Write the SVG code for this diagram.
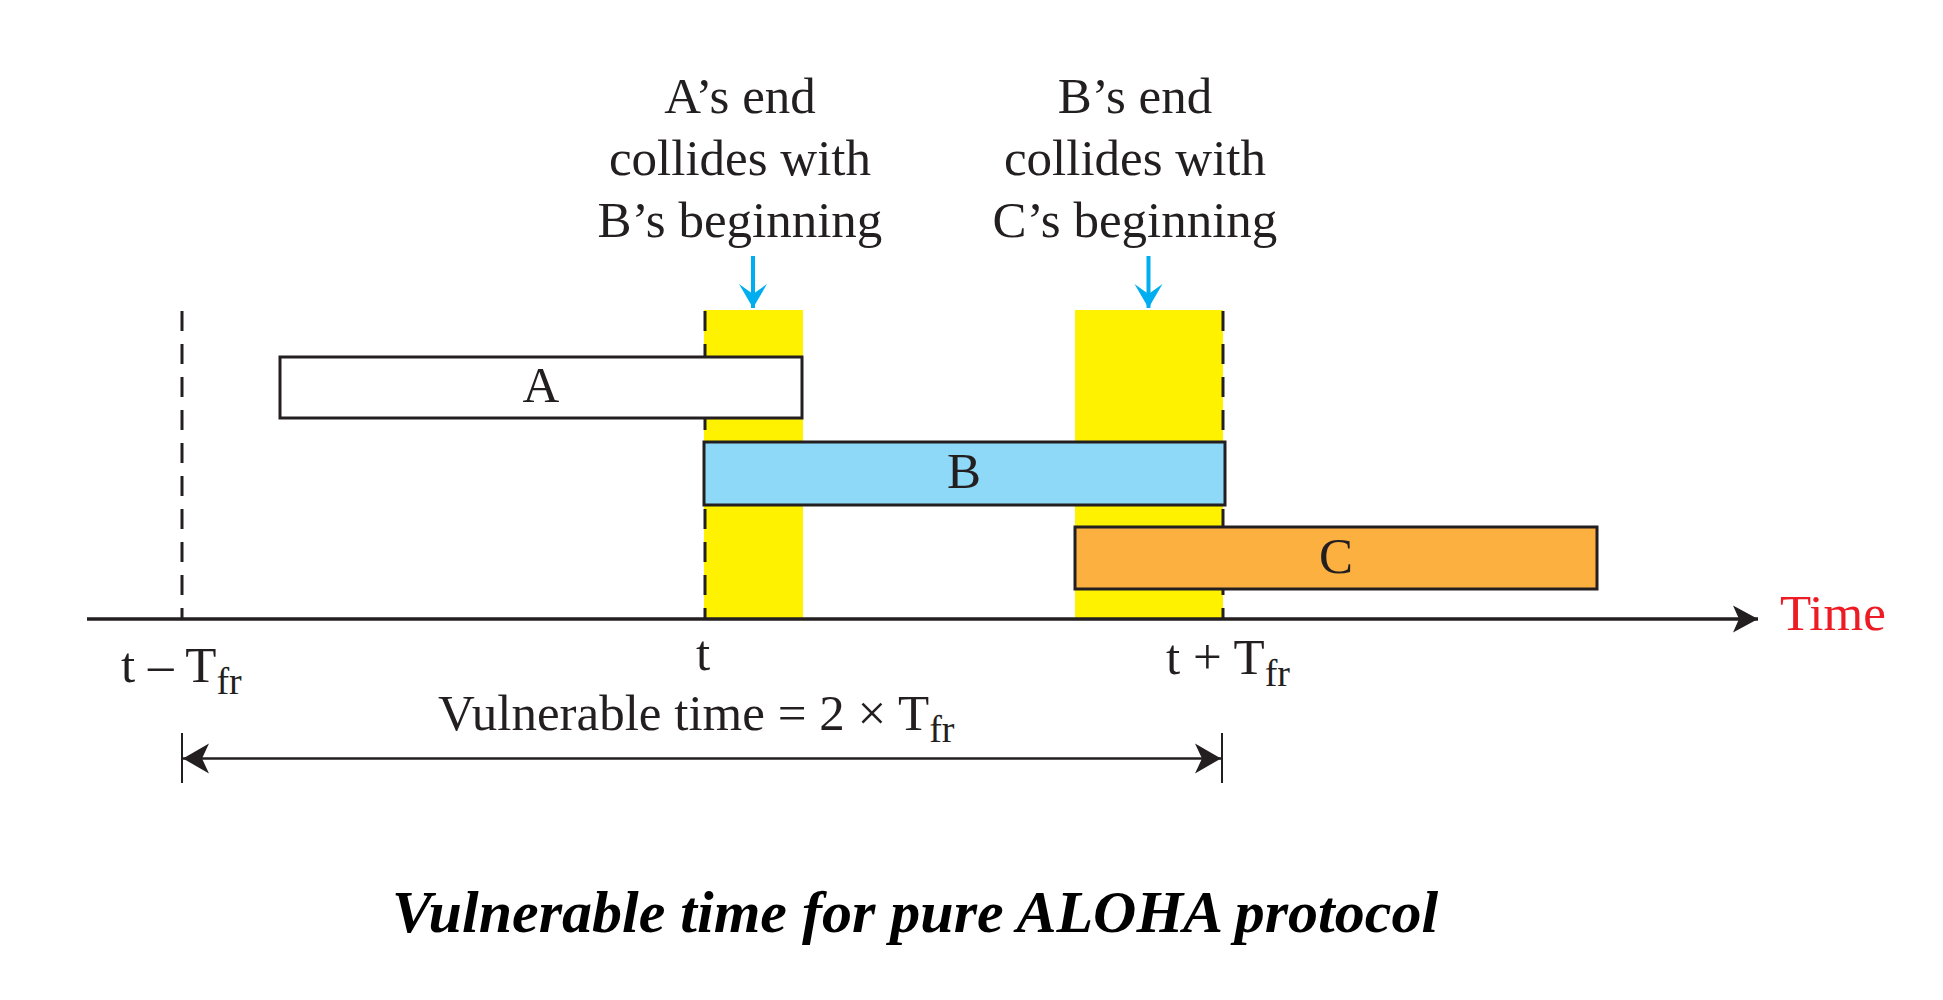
<svg xmlns="http://www.w3.org/2000/svg" width="1943" height="1000" viewBox="0 0 1943 1000">
<style>
.lbl{font-family:"Liberation Serif","Times New Roman",serif;font-size:51px;fill:#231F20}
.sub{font-size:38px}
.box{stroke:#231F20;stroke-width:3}
.dash{stroke:#231F20;stroke-width:3;stroke-dasharray:20 13;fill:none}
.band{fill:#FFF200}
.title{font-family:"Liberation Serif","Times New Roman",serif;font-size:60px;font-weight:bold;font-style:italic;fill:#000}
</style>
<defs>
<marker id="ah" markerUnits="userSpaceOnUse" viewBox="-26 -15 27 30" refX="0" refY="0" markerWidth="27" markerHeight="30" orient="auto">
<path d="M0,0 L-25,-13.5 L-19,0 L-25,13.5 Z" fill="#231F20"/>
</marker>
<marker id="dh" markerUnits="userSpaceOnUse" viewBox="-27 -16 28 32" refX="0" refY="0" markerWidth="28" markerHeight="32" orient="auto-start-reverse">
<path d="M0,0 L-26,-15 L-19,0 L-26,15 Z" fill="#231F20"/>
</marker>
<marker id="bh" markerUnits="userSpaceOnUse" viewBox="-25 -15 26 30" refX="0" refY="0" markerWidth="26" markerHeight="30" orient="auto">
<path d="M0,0 L-24,-14 L-14,0 L-24,14 Z" fill="#00AEEF"/>
</marker>
</defs>
<rect width="1943" height="1000" fill="#fff"/>
<g id="bands">
<rect class="band" x="704" y="310" width="99" height="308"/>
<rect class="band" x="1075" y="310" width="148" height="308"/>
</g>
<g id="guides">
<line class="dash" x1="182" y1="311" x2="182" y2="618"/>
<line class="dash" x1="705" y1="311" x2="705" y2="618"/>
<line class="dash" x1="1223" y1="311" x2="1223" y2="618"/>
</g>
<g id="frameA">
<rect class="box" x="280" y="357" width="522" height="61" fill="#fff"/>
<text class="lbl" x="541" y="402" text-anchor="middle">A</text>
</g>
<g id="frameB">
<rect class="box" x="704" y="442" width="521" height="63" fill="#8ED8F8"/>
<text class="lbl" x="964" y="488" text-anchor="middle">B</text>
</g>
<g id="frameC">
<rect class="box" x="1075" y="527" width="522" height="62" fill="#FBB040"/>
<text class="lbl" x="1336" y="573" text-anchor="middle">C</text>
</g>
<g id="connectors">
<line x1="87" y1="619" x2="1758" y2="619" stroke="#231F20" stroke-width="3.5" marker-end="url(#ah)"/>
<line x1="183" y1="758.5" x2="1221" y2="758.5" stroke="#231F20" stroke-width="2.5" marker-start="url(#dh)" marker-end="url(#dh)"/>
<line x1="182" y1="733" x2="182" y2="783" stroke="#231F20" stroke-width="2"/>
<line x1="1222" y1="733" x2="1222" y2="783" stroke="#231F20" stroke-width="2"/>
<line x1="753" y1="256" x2="753" y2="308" stroke="#00AEEF" stroke-width="4" marker-end="url(#bh)"/>
<line x1="1148.5" y1="256" x2="1148.5" y2="308" stroke="#00AEEF" stroke-width="4" marker-end="url(#bh)"/>
</g>
<g id="note1">
<text class="lbl" x="740" y="113" text-anchor="middle">A’s end</text>
<text class="lbl" x="740" y="175" text-anchor="middle">collides with</text>
<text class="lbl" x="740" y="237" text-anchor="middle">B’s beginning</text>
</g>
<g id="note2">
<text class="lbl" x="1135" y="113" text-anchor="middle">B’s end</text>
<text class="lbl" x="1135" y="175" text-anchor="middle">collides with</text>
<text class="lbl" x="1135" y="237" text-anchor="middle">C’s beginning</text>
</g>
<g id="ticks">
<text class="lbl" x="121" y="682">t – T<tspan class="sub" dy="12">fr</tspan></text>
<text class="lbl" x="703" y="670" text-anchor="middle">t</text>
<text class="lbl" x="1166" y="674">t + T<tspan class="sub" dy="12">fr</tspan></text>
<text class="lbl" x="1780" y="630" style="fill:#ED1C24">Time</text>
</g>
<g id="vulnerable">
<text class="lbl" x="438" y="730">Vulnerable time = 2 × T<tspan class="sub" dy="12">fr</tspan></text>
</g>
<g id="caption">
<text class="title" x="915" y="932" text-anchor="middle">Vulnerable time for pure ALOHA protocol</text>
</g>
</svg>
